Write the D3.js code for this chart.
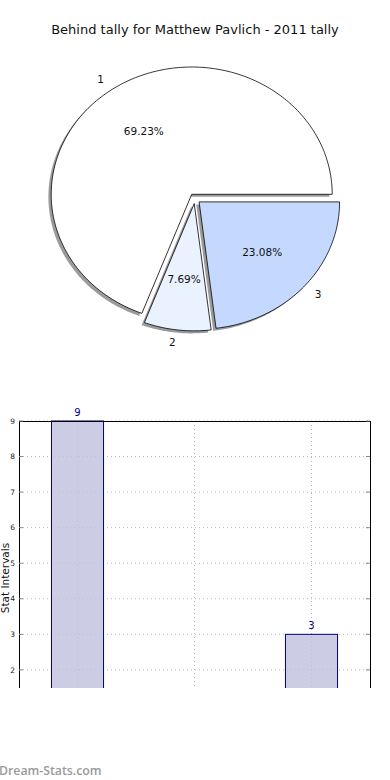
<!DOCTYPE html>
<html><head><meta charset="utf-8">
<script src="https://cdn.jsdelivr.net/npm/d3@7/dist/d3.min.js"></script>
<style>body{margin:0;background:#fff;}svg{display:block;}</style>
</head><body>
<svg id="c" width="390" height="780"></svg>
<script>
const title = "Behind tally for Matthew Pavlich - 2011 tally";
const categories = ["1", "2", "3"];
const values = [9, 1, 3];
const sliceColors = ["#ffffff", "#eaf1ff", "#c5d9fe"];
const yTicks = [1, 2, 3, 4, 5, 6, 7, 8, 9];
const yLabel = "Stat Intervals";
const watermark = "Dream-Stats.com";

const svg = d3.select("#c");
const font = "DejaVu Sans, sans-serif";

svg.append("text").attr("x", 195).attr("y", 34).attr("text-anchor", "middle")
  .attr("font-family", font).attr("font-size", 13).attr("fill", "#111").text(title);

// ---- Pie ----
const cx = 194.9, cy = 198.5, rx = 140.5, ry = 127.3, explode = 0.04;
const px = d3.scaleLinear().domain([-1, 1]).range([cx - rx, cx + rx]);
const py = d3.scaleLinear().domain([-1, 1]).range([cy + ry, cy - ry]);
const pie = d3.pie().sort(null).value(d => d);
const arcs = pie(values);
const total = d3.sum(values);

function wedge(a, dx, dy) {
  const mid = (a.startAngle + a.endAngle) / 2;
  const ox = explode * Math.cos(mid) + dx, oy = explode * Math.sin(mid) + dy;
  const pts = [[ox, oy]];
  const n = Math.max(8, Math.ceil((a.endAngle - a.startAngle) * 60));
  for (let i = 0; i <= n; i++) {
    const t = a.startAngle + (a.endAngle - a.startAngle) * i / n;
    pts.push([ox + Math.cos(t), oy + Math.sin(t)]);
  }
  return d3.line().x(p => px(p[0])).y(p => py(p[1]))(pts) + "Z";
}

const pg = svg.append("g");
arcs.forEach(a => {
  pg.append("path").attr("d", wedge(a, -0.02, -0.02)).attr("fill", "#8a8a8a").attr("fill-opacity", 0.85);
});
arcs.forEach((a, i) => {
  pg.append("path").attr("d", wedge(a, 0, 0)).attr("fill", sliceColors[i])
    .attr("stroke", "#000").attr("stroke-width", 0.8).attr("stroke-linejoin", "miter");
});
arcs.forEach((a, i) => {
  const mid = (a.startAngle + a.endAngle) / 2;
  const ox = explode * Math.cos(mid), oy = explode * Math.sin(mid);
  const lx = ox + 1.1 * Math.cos(mid), ly = oy + 1.1 * Math.sin(mid);
  pg.append("text").attr("x", px(lx)).attr("y", py(ly)).attr("dy", "0.35em")
    .attr("text-anchor", lx > 0 ? "start" : "end")
    .attr("font-family", font).attr("font-size", 10.5).attr("fill", "#111").text(categories[i]);
  const tx = ox + 0.6 * Math.cos(mid), ty = oy + 0.6 * Math.sin(mid);
  pg.append("text").attr("x", px(tx)).attr("y", py(ty)).attr("dy", "0.35em")
    .attr("text-anchor", "middle")
    .attr("font-family", font).attr("font-size", 10.5).attr("fill", "#111")
    .text((values[i] / total * 100).toFixed(2) + "%");
});

// ---- Bars ----
const L = 19, R = 370, T = 421, B = 741, clipB = 688;
const x = d3.scaleLinear().domain([-0.5, categories.length - 0.5]).range([L, R]);
const y = d3.scaleLinear().domain([0, 9]).range([B, T]);
const bw = 0.445;

svg.append("defs").append("clipPath").attr("id", "clipb")
  .append("rect").attr("x", 0).attr("y", 400).attr("width", 390).attr("height", clipB - 400);

const bg = svg.append("g").attr("clip-path", "url(#clipb)");

// grid
yTicks.forEach(t => {
  bg.append("line").attr("x1", L).attr("x2", R).attr("y1", y(t)).attr("y2", y(t))
    .attr("stroke", "#b8b8b8").attr("stroke-width", 1).attr("stroke-dasharray", "1,3");
});
categories.forEach((c, i) => {
  bg.append("line").attr("x1", x(i)).attr("x2", x(i)).attr("y1", T).attr("y2", B)
    .attr("stroke", "#b8b8b8").attr("stroke-width", 1).attr("stroke-dasharray", "1,3");
});

// bars
values.forEach((v, i) => {
  bg.append("rect").attr("x", x(i - bw / 2)).attr("width", x(bw) - x(0))
    .attr("y", y(v)).attr("height", y(0) - y(v))
    .attr("fill", "#bfc0de").attr("fill-opacity", 0.8)
    .attr("stroke", "#000080").attr("stroke-width", 1);
  bg.append("text").attr("x", x(i)).attr("y", y(v) - 5).attr("text-anchor", "middle")
    .attr("font-family", font).attr("font-size", 10).attr("fill", "#000080").text(v);
});

// spines
bg.append("line").attr("x1", L).attr("x2", R).attr("y1", T + 0.5).attr("y2", T + 0.5).attr("stroke", "#000");
bg.append("line").attr("x1", L + 0.5).attr("x2", L + 0.5).attr("y1", T).attr("y2", B).attr("stroke", "#000");
bg.append("line").attr("x1", R + 0.5).attr("x2", R + 0.5).attr("y1", T).attr("y2", B).attr("stroke", "#000");

// ticks
yTicks.forEach(t => {
  bg.append("line").attr("x1", L).attr("x2", L + 4).attr("y1", y(t)).attr("y2", y(t)).attr("stroke", "#888");
  bg.append("line").attr("x1", R - 4).attr("x2", R).attr("y1", y(t)).attr("y2", y(t)).attr("stroke", "#888");
  bg.append("text").attr("x", 15).attr("y", y(t)).attr("dy", "0.35em").attr("text-anchor", "end")
    .attr("font-family", font).attr("font-size", 7.5).attr("fill", "#222").text(t);
});

svg.append("text").attr("transform", "translate(8.5,578) rotate(-90)").attr("text-anchor", "middle")
  .attr("font-family", font).attr("font-size", 10.5).attr("fill", "#111").text(yLabel);

svg.append("text").attr("x", -1).attr("y", 775).attr("font-family", "Open Sans, sans-serif")
  .attr("font-weight", 600).attr("font-size", 12.3).attr("fill", "#9a9a9a").text(watermark);
</script>
</body></html>
